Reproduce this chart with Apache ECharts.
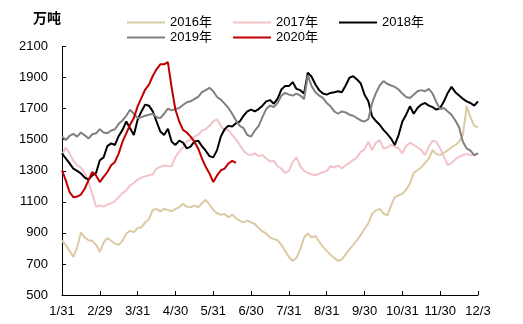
<!DOCTYPE html>
<html>
<head>
<meta charset="utf-8">
<script src="https://cdn.jsdelivr.net/npm/echarts@6/dist/echarts.min.js"></script>
<style>
html,body{margin:0;padding:0;background:#fff;}
#c{width:523px;height:324px;}
</style>
</head>
<body>
<div id="c"></div>
<script>
// x tick labels (one every 10 sample points)
const tickLabels = ['1/31','2/29','3/31','4/30','5/31','6/30','7/31','8/31','9/30','10/31','11/30','12/3'];
const yTicks = [500,700,900,1100,1300,1500,1700,1900,2100];
const categories = Array.from({length: 111}, (_, i) => 'd' + i);
const seriesNames = ['2016年','2017年','2018年','2019年','2020年'];

const s2016 = [849,823,784,745,805,903,870,853,849,823,779,838,866,849,831,823,849,896,914,903,931,935,968,989,1048,1054,1039,1054,1048,
 1039,1054,1065,1087,1069,1065,1076,1065,1091,1113,1082,1048,1026,1017,1022,1000,1017,996,979,968,979,968,957,931,909,896,870,
 860,853,823,784,745,719,740,794,870,896,870,881,844,810,784,758,740,719,729,762,794,823,853,888,925,961,1022,1045,
 1054,1026,1011,1076,1130,1141,1152,1178,1217,1286,1303,1321,1351,1379,1433,1407,1401,1416,1433,1450,1466,1487,1530,1715,1645,1589,1580];

const s2017 = [1401,1450,1412,1364,1336,1320,1286,1227,1152,1069,1076,1069,1082,1091,1104,1130,1156,1173,1206,1221,1243,1256,1264,1271,1277,1314,1325,1334,1330,
 1329,1390,1422,1450,1487,1502,1520,1531,1559,1567,1589,1617,1632,1589,1559,1563,1530,1502,1466,1429,1407,1401,1412,1394,1401,1379,1360,
 1364,1329,1314,1286,1299,1357,1386,1329,1299,1286,1277,1271,1282,1290,1299,1329,1321,1334,1314,1336,1351,1368,1386,1422,1438,1487,1433,1480,
 1498,1444,1450,1466,1455,1444,1412,1459,1481,1466,1450,1433,1401,1455,1494,1487,1444,1390,1336,1351,1373,1390,1401,1407,1401,1401,1416];

const s2018 = [1412,1379,1347,1314,1299,1282,1256,1243,1270,1286,1368,1386,1459,1476,1466,1524,1563,1617,1574,1530,1628,1682,1726,1719,1682,1617,1552,1530,1570,
 1487,1466,1494,1481,1444,1455,1487,1494,1459,1429,1394,1386,1433,1520,1567,1589,1585,1606,1617,1654,1682,1693,1682,1697,1719,1747,1755,
 1732,1763,1823,1845,1845,1871,1827,1819,1797,1931,1905,1855,1819,1797,1790,1801,1806,1812,1806,1849,1899,1909,1888,1862,1790,1747,1650,1620,
 1596,1563,1537,1507,1466,1530,1617,1661,1715,1667,1704,1726,1736,1719,1710,1693,1704,1747,1801,1840,1806,1784,1763,1747,1736,1719,1747];

const s2019 = [1520,1498,1524,1537,1520,1546,1528,1507,1535,1541,1567,1546,1541,1559,1567,1602,1624,1654,1693,1667,1639,1645,1654,1661,1667,1645,1639,1667,1700,
 1689,1697,1704,1723,1741,1747,1762,1775,1806,1819,1834,1812,1775,1758,1732,1704,1667,1624,1589,1574,1530,1520,1559,1589,1645,1697,1720,
 1710,1736,1784,1801,1790,1784,1797,1784,1762,1914,1845,1806,1784,1769,1736,1715,1682,1667,1682,1676,1661,1654,1639,1624,1617,1632,1736,1800,
 1849,1877,1860,1849,1840,1823,1797,1775,1769,1790,1812,1819,1812,1827,1797,1741,1697,1704,1682,1661,1624,1580,1487,1444,1429,1401,1412];

const s2020 = [1303,1238,1162,1130,1134,1147,1184,1238,1292,1270,1227,1260,1292,1336,1357,1412,1487,1541,1596,1639,1715,1769,1823,1855,1910,1953,1985,1985,2000,
 1834,1693,1617,1563,1546,1520,1487,1444,1379,1325,1282,1227,1270,1303,1314,1347,1364,1351];

const colors = ['#dccaa4','#f2c3c9','#000000','#808080','#c00000'];
const allData = [s2016, s2017, s2018, s2019, s2020];

const chart = echarts.init(document.getElementById('c'), null, {renderer: 'canvas'});
const FONT = 'Liberation Sans, Arial, sans-serif';

function legendAt(name, left, top) {
  return {
    data: [name], left: left, top: top, orient: 'horizontal',
    icon: 'rect', itemWidth: 38, itemHeight: 2, itemGap: 5,
    textStyle: {fontSize: 13, color: '#000', fontFamily: 'Liberation Sans, Noto Sans CJK SC, sans-serif', padding: [0,0,0,0]},
    selectedMode: false
  };
}

chart.setOption({
  animation: false,
  backgroundColor: '#fff',
  title: {
    text: '万吨', left: 28, top: 6,
    textStyle: {fontSize: 14, fontWeight: 'bold', color: '#000', fontFamily: 'Noto Sans CJK SC, sans-serif'}
  },
  legend: [
    legendAt(seriesNames[0], 122, 11),
    legendAt(seriesNames[1], 228, 11),
    legendAt(seriesNames[2], 334, 11),
    legendAt(seriesNames[3], 122, 26),
    legendAt(seriesNames[4], 228, 26)
  ],
  grid: {left: 62, right: 45, top: 46.5, bottom: 29},
  xAxis: {
    type: 'category', data: categories, boundaryGap: false,
    axisLine: {show: true, lineStyle: {color: '#000', width: 1}},
    axisTick: {show: true, inside: true, length: 4, interval: (i) => i % 10 === 0, lineStyle: {color: '#000'}},
    axisLabel: {
      interval: (i) => i % 10 === 0,
      formatter: (v, i) => tickLabels[Math.round(i / 10)],
      margin: 10, fontSize: 13, color: '#000', fontFamily: FONT
    },
    splitLine: {show: false}
  },
  yAxis: {
    type: 'value', min: 500, max: 2100,
    axisLine: {show: true, lineStyle: {color: '#000', width: 1}},
    axisTick: {show: true, inside: true, length: 4, customValues: yTicks, lineStyle: {color: '#000'}},
    axisLabel: {customValues: yTicks, formatter: (v) => String(Math.round(v)), margin: 14, fontSize: 13, color: '#000', fontFamily: FONT},
    splitLine: {show: false}
  },
  series: seriesNames.map((n, k) => ({
    name: n, type: 'line', data: allData[k], symbol: 'none', showSymbol: false,
    color: colors[k],
    lineStyle: {color: colors[k], width: 2},
    z: 2 + k
  }))
});
</script>
</body>
</html>
